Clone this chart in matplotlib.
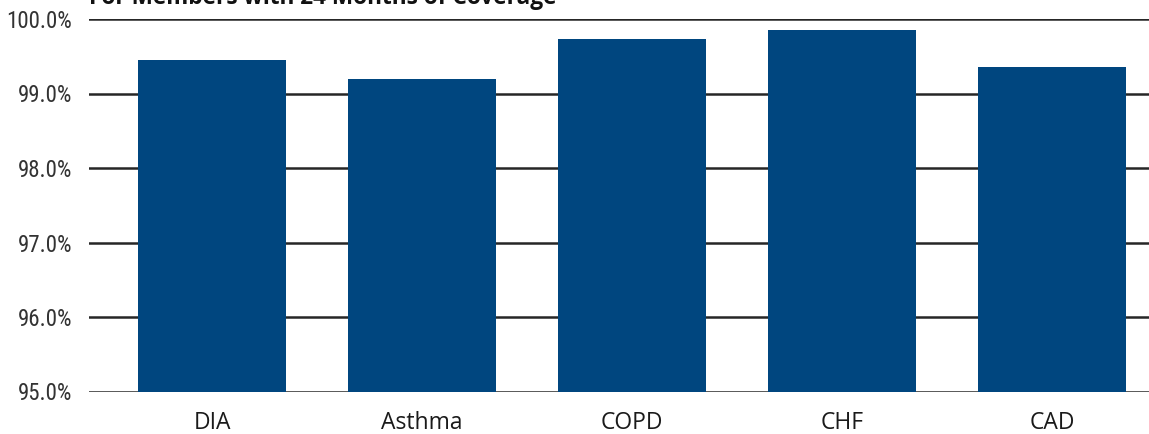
import matplotlib
matplotlib.use("Agg")
import matplotlib.pyplot as plt
from matplotlib import font_manager

# Share of members, by condition
categories = ["DIA", "Asthma", "COPD", "CHF", "CAD"]
values = [99.45, 99.20, 99.73, 99.85, 99.36]
y_ticks = [95.0, 96.0, 97.0, 98.0, 99.0, 100.0]
y_tick_labels = ["95.0%", "96.0%", "97.0%", "98.0%", "99.0%", "100.0%"]
title = "For Members with 24 Months of Coverage"

installed = {f.name for f in font_manager.fontManager.ttflist}
narrow = next((n for n in ["Liberation Sans Narrow", "Roboto Condensed", "Roboto"] if n in installed),
              "DejaVu Sans")

BAR = "#00467F"
GRID = "#262626"

fig = plt.figure(figsize=(11.49, 4.34), dpi=100)
ax = fig.add_axes([89 / 1149, 42.5 / 434, 1 - 89 / 1149, (415 - 42.5) / 434])

x = list(range(len(categories)))
ax.bar(x, values, width=0.705, color=BAR, zorder=2)

ax.set_ylim(95, 100)
ax.set_xlim(-0.586, 4.462)
ax.set_yticks(y_ticks)
ax.set_yticklabels(y_tick_labels, fontfamily=narrow, fontsize=16.5, color="#333333")
ax.set_xticks(x)
ax.set_xticklabels(categories, fontfamily="Open Sans", fontsize=16.5, color="#1a1a1a")
ax.tick_params(axis="both", length=0)
ax.tick_params(axis="y", pad=12)
ax.tick_params(axis="x", pad=14)

ax.yaxis.grid(True, color=GRID, linewidth=1.8, zorder=1)
ax.set_axisbelow(True)
for s in ax.spines.values():
    s.set_visible(False)

fig.text(89 / 1149, 1 - 4 / 434, title, fontfamily="Open Sans", fontweight="bold",
         fontsize=16.3, color="#111111", ha="left", va="baseline")

fig.savefig("out.png", dpi=100)
